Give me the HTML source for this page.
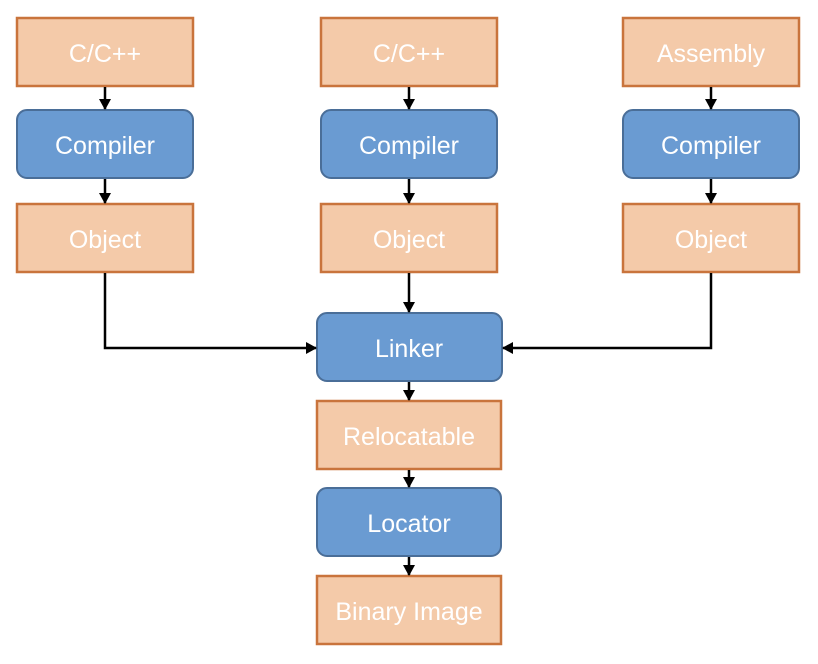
<!DOCTYPE html>
<html><head><meta charset="utf-8"><style>
html,body{margin:0;padding:0;background:#fff;}
svg{display:block;}
text{font-family:"Liberation Sans",Arial,sans-serif;font-size:25px;fill:#fff;text-anchor:middle;dominant-baseline:central;}
.o{fill:#f4caa9;stroke:#c9743c;stroke-width:2.5;}
.b{fill:#6a9bd2;stroke:#4a6e98;stroke-width:2;}
.l{stroke:#000;stroke-width:2.5;fill:none;}
</style></head><body>
<svg width="818" height="664" viewBox="0 0 818 664" xmlns="http://www.w3.org/2000/svg">
<defs><marker id="a" markerWidth="12" markerHeight="12" refX="10" refY="6" orient="auto" markerUnits="userSpaceOnUse"><path d="M0,0 L11,6 L0,12 z" fill="#000"/></marker></defs>
<rect class="o" x="17" y="18" width="176" height="68"/><text x="105" y="54">C/C++</text>
<rect class="b" x="17" y="110" width="176" height="68" rx="10"/><text x="105" y="146">Compiler</text>
<rect class="o" x="17" y="204" width="176" height="68"/><text x="105" y="240">Object</text>
<rect class="o" x="321" y="18" width="176" height="68"/><text x="409" y="54">C/C++</text>
<rect class="b" x="321" y="110" width="176" height="68" rx="10"/><text x="409" y="146">Compiler</text>
<rect class="o" x="321" y="204" width="176" height="68"/><text x="409" y="240">Object</text>
<rect class="o" x="623" y="18" width="176" height="68"/><text x="711" y="54">Assembly</text>
<rect class="b" x="623" y="110" width="176" height="68" rx="10"/><text x="711" y="146">Compiler</text>
<rect class="o" x="623" y="204" width="176" height="68"/><text x="711" y="240">Object</text>
<rect class="b" x="317" y="313" width="185" height="68" rx="10"/><text x="409" y="349">Linker</text>
<rect class="o" x="317" y="401" width="184" height="68"/><text x="409" y="437">Relocatable</text>
<rect class="b" x="317" y="488" width="184" height="68" rx="10"/><text x="409" y="524">Locator</text>
<rect class="o" x="317" y="576" width="184" height="68"/><text x="409" y="612">Binary Image</text>
<line class="l" x1="105" y1="87" x2="105" y2="109" marker-end="url(#a)"/>
<line class="l" x1="105" y1="179" x2="105" y2="203" marker-end="url(#a)"/>
<line class="l" x1="409" y1="87" x2="409" y2="109" marker-end="url(#a)"/>
<line class="l" x1="409" y1="179" x2="409" y2="203" marker-end="url(#a)"/>
<line class="l" x1="711" y1="87" x2="711" y2="109" marker-end="url(#a)"/>
<line class="l" x1="711" y1="179" x2="711" y2="203" marker-end="url(#a)"/>
<line class="l" x1="409" y1="273" x2="409" y2="312" marker-end="url(#a)"/>
<polyline class="l" points="105,273 105,348 316,348" marker-end="url(#a)"/>
<polyline class="l" points="711,273 711,348 503,348" marker-end="url(#a)"/>
<line class="l" x1="409" y1="382" x2="409" y2="400" marker-end="url(#a)"/>
<line class="l" x1="409" y1="470" x2="409" y2="487" marker-end="url(#a)"/>
<line class="l" x1="409" y1="557" x2="409" y2="575" marker-end="url(#a)"/>
</svg>
</body></html>
